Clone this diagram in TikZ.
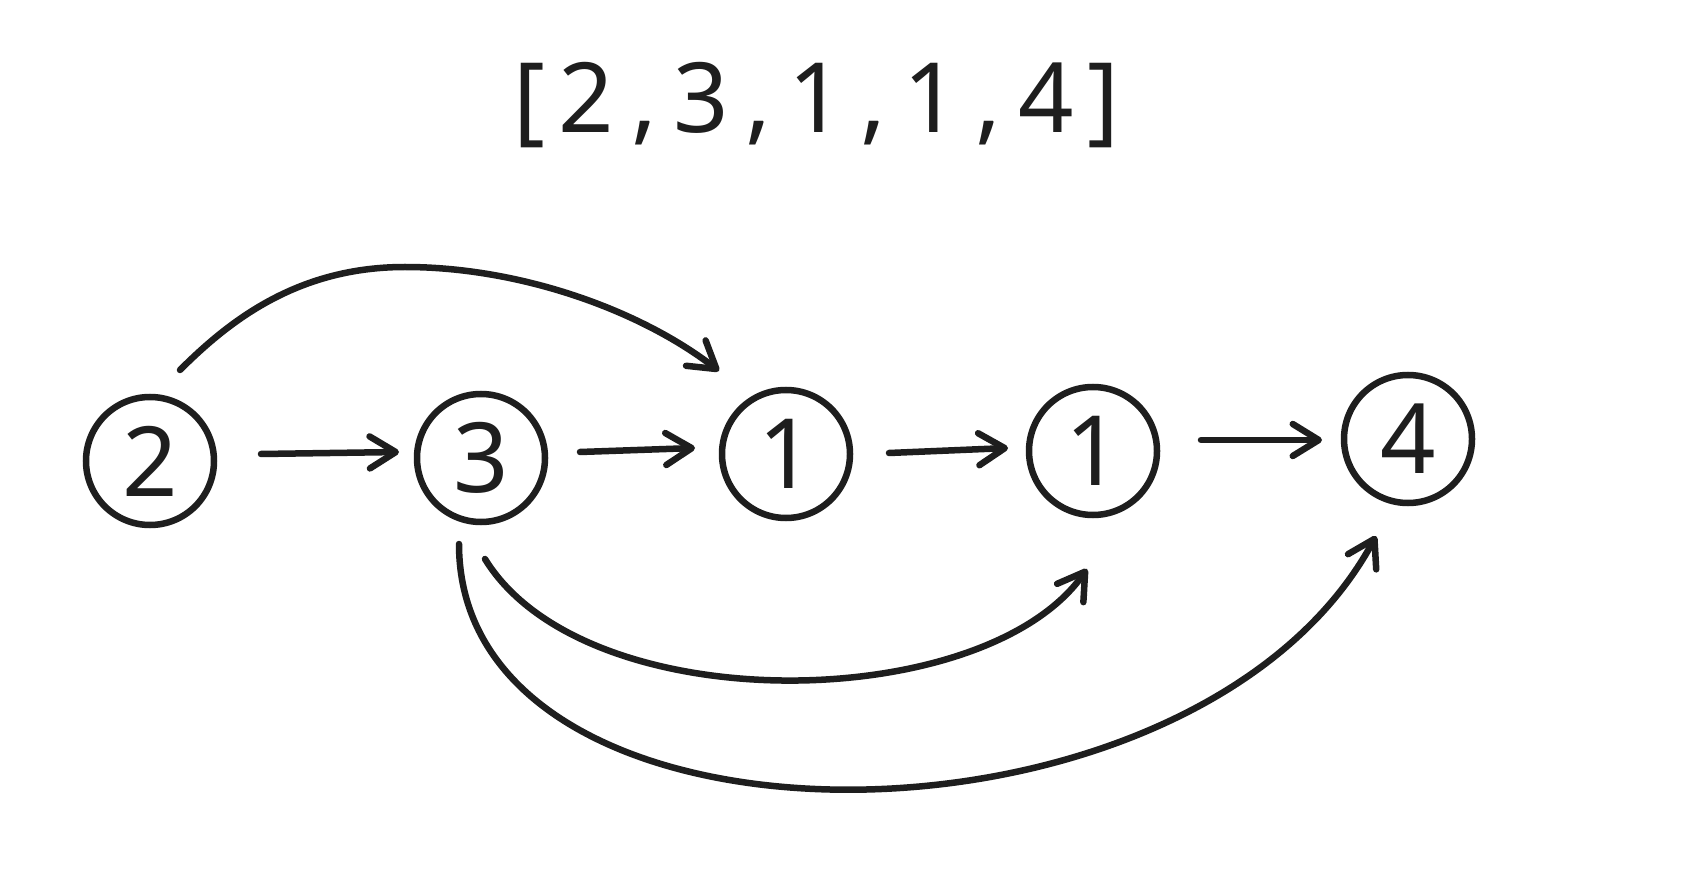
\documentclass[tikz,border=0pt]{standalone}
\usepackage{fontspec}
\setmainfont{Noto Sans}
\usetikzlibrary{arrows.meta,calc}
\definecolor{ink}{HTML}{1E1E1E}
\newcommand{\seqch}[1]{\makebox[57.5pt][c]{#1}}
\tikzset{
  num/.style={circle, draw=ink, line width=6.5pt, minimum size=128pt, inner sep=0pt,
    text=ink, font=\fontsize{97}{100}\selectfont},
  link/.style={draw=ink, line width=6.5pt, line cap=round, line join=round,
    -{Straight Barb[length=26pt, width=32pt, round]}},
}
\begin{document}
\begin{tikzpicture}[x=1pt, y=-1pt]
  \useasboundingbox (0,0) rectangle (1682,882);
  \fill[white] (0,0) rectangle (1682,882);

  % the sequence
  \node[anchor=base, text=ink, inner sep=0pt, font=\fontsize{97}{100}\selectfont] (seq) at (816.5,133)
    {\seqch{[}\seqch{2}\seqch{,}\seqch{3}\seqch{,}\seqch{1}\seqch{,}\seqch{1}\seqch{,}\seqch{4}\seqch{]}};

  % one node per entry
  \node[num] (n2)  at (150,461)  {2};
  \node[num] (n3)  at (481,458)  {3};
  \node[num] (n1a) at (786,454)  {1};
  \node[num] (n1b) at (1093,451) {1};
  \node[num] (n4)  at (1408,439) {4};

  % jumps to the neighbour
  \draw[link] ([shift={(111,-7)}]n2.center) -- ([shift={(-82,-6)}]n3.center);
  \draw[link] ([shift={(99,-6)}]n3.center) -- ([shift={(-91,-6)}]n1a.center);
  \draw[link] ([shift={(103,-1)}]n1a.center) -- ([shift={(-85,-3)}]n1b.center);
  \draw[link] ([shift={(108,-11)}]n1b.center) -- ([shift={(-86,1)}]n4.center);

  % longer jumps
  \draw[link] ([shift={(30,-91)}]n2.center)
    .. controls (232,318) and (300,267) .. (405,267)
    .. controls (520,267) and (640,310) .. ([shift={(-67,-83)}]n1a.center);
  \draw[link] ([shift={(4,101)}]n3.center)
    .. controls (585,722) and (985,715) .. ([shift={(-6,118)}]n1b.center);
  \draw[link] ([shift={(-22,86)}]n3.center)
    .. controls (459,872) and (1195,872) .. ([shift={(-32,97)}]n4.center);
\end{tikzpicture}
\end{document}
